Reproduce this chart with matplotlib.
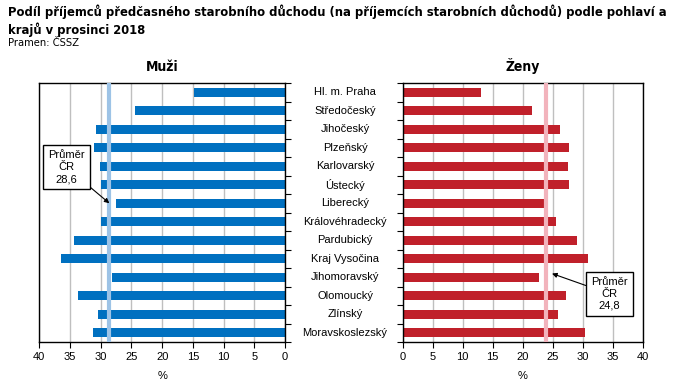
import matplotlib
matplotlib.use("Agg")
import matplotlib.pyplot as plt
import matplotlib.transforms as mtransforms
from matplotlib import font_manager
import numpy as np

regions = ["Hl. m. Praha", "Středočeský", "Jihočeský", "Plzeňský", "Karlovarský",
           "Ústecký", "Liberecký", "Královéhradecký", "Pardubický", "Kraj Vysočina",
           "Jihomoravský", "Olomoucký", "Zlínský", "Moravskoslezský"]
men = [14.8, 24.4, 30.8, 31.1, 30.1, 30.0, 27.5, 30.0, 34.4, 36.5, 28.2, 33.7, 30.4, 31.3]
women = [13.0, 21.6, 26.2, 27.7, 27.6, 27.7, 23.7, 25.6, 29.1, 30.9, 22.7, 27.2, 25.9, 30.4]
men_avg_line = 28.6
women_avg_line = 23.9
men_avg_label = "Průměr\nČR\n28,6"
women_avg_label = "Průměr\nČR\n24,8"
xticks = [0, 5, 10, 15, 20, 25, 30, 35, 40]
title_text = ("Podíl příjemců předčasného starobního důchodu (na příjemcích starobních "
              "důchodů) podle pohlaví a\nkrajů v prosinci 2018")

plt.rcParams["font.family"] = ["Liberation Sans", "DejaVu Sans"]

# pick a condensed face if one is installed
names = {f.name for f in font_manager.fontManager.ttflist}
cond_kw = {}
if "Liberation Sans Narrow" in names:
    cond_kw = dict(family=["Liberation Sans Narrow", "Liberation Sans", "DejaVu Sans"])
elif any(f.name == "DejaVu Sans" and str(f.stretch) in ("condensed", "semi-condensed", "75", "87")
         for f in font_manager.fontManager.ttflist):
    cond_kw = dict(family=["DejaVu Sans"], fontstretch="condensed")
else:
    cond_kw = dict(family=["Liberation Sans", "DejaVu Sans"])

fig = plt.figure(figsize=(6.78, 3.91), dpi=100)
ax1 = fig.add_axes([0.058, 0.1253, 0.3624, 0.6624])
ax2 = fig.add_axes([0.594, 0.1253, 0.3537, 0.6624])

y = np.arange(len(regions))
blue = "#0070c0"
red = "#c0202a"

for ax, vals, col, avg, lcol in [(ax1, men, blue, men_avg_line, "#9dc3e6"),
                                 (ax2, women, red, women_avg_line, "#f2b3bc")]:
    ax.barh(y, vals, height=0.5, color=col, zorder=2)
    ax.axvline(avg, color=lcol, lw=3, zorder=3)
    ax.set_xlim(0, 40)
    ax.set_ylim(len(regions) - 0.5, -0.5)
    ax.set_xticks(xticks)
    ax.set_xticklabels([str(t) for t in xticks], fontsize=8)
    ax.grid(axis="x", color="#bfbfbf", lw=1, zorder=0)
    ax.set_axisbelow(True)
    for s in ax.spines.values():
        s.set_color("black")
        s.set_linewidth(1)
    ax.tick_params(axis="x", length=4, width=0.8, direction="out", pad=3)
    ax.set_xlabel("%", fontsize=8, labelpad=7)
    ax.set_yticks(np.arange(-0.5, len(regions), 1.0))
    ax.set_yticklabels([])
    ax.tick_params(axis="y", length=4, width=0.8, direction="out")

ax1.invert_xaxis()
ax1.yaxis.tick_right()
ax2.yaxis.tick_left()

trans = mtransforms.blended_transform_factory(fig.transFigure, ax2.transData)
for yi, name in zip(y, regions):
    ax2.text(345 / 678, yi, name, transform=trans, ha="center", va="center", fontsize=8)

ax1.set_title("Muži", fontsize=10, fontweight="bold", pad=9, **cond_kw)
ax2.set_title("Ženy", fontsize=10, fontweight="bold", pad=9, **cond_kw)

box = dict(boxstyle="square,pad=0.45", fc="white", ec="black", lw=1)
arrow = dict(arrowstyle="-|>", color="black", lw=0.8, mutation_scale=7, shrinkA=0, shrinkB=0)
ax1.annotate(men_avg_label, xy=(28.6, 6), xytext=(35.6, 4.05), ha="center", va="center",
             fontsize=8, bbox=box, arrowprops=arrow, zorder=5, linespacing=1.25)
ax2.annotate(women_avg_label, xy=(24.9, 9.8), xytext=(34.5, 10.9), ha="center", va="center",
             fontsize=8, bbox=box, arrowprops=arrow, zorder=5, linespacing=1.25)

title = fig.text(8 / 678, 1 - 4 / 391, title_text, ha="left", va="top", fontsize=11,
                 fontweight="bold", linespacing=1.1, **cond_kw)
fig.text(8 / 678, 1 - 38 / 391, "Pramen: ČSSZ", ha="left", va="top", fontsize=8, **cond_kw)

# shrink the title so that it fits the width used in the reference (~655 px)
renderer = fig.canvas.get_renderer()
w = title.get_window_extent(renderer=renderer).width
if w > 655:
    fs = 11 * 655 / w
    title.set_fontsize(fs)
    title.set_linespacing(1.1 * 11 / fs)

fig.savefig("out.png", dpi=100)
